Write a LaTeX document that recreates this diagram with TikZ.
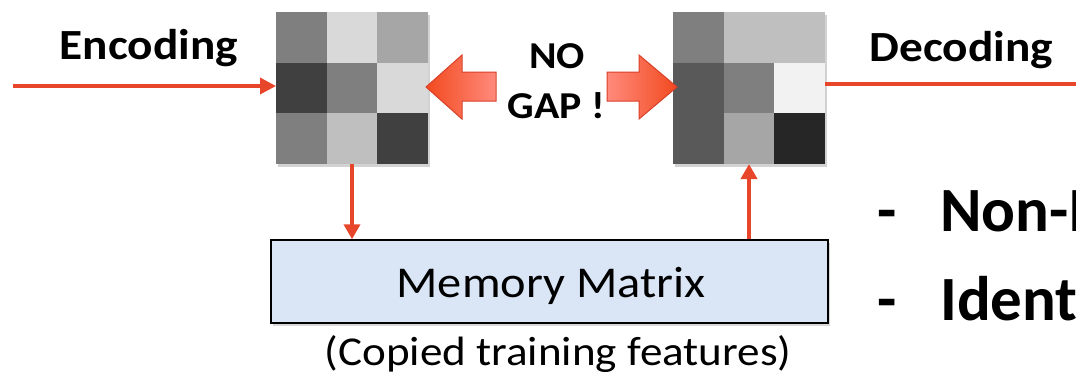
\documentclass[tikz,border=0pt]{standalone}
\usepackage{fontspec}
\setmainfont[FakeStretch=1.1]{Carlito}
\newfontfamily\plainfont{Carlito}
\usetikzlibrary{arrows.meta,shadows,calc}
\definecolor{arr}{HTML}{E8462A}
\definecolor{arrdark}{HTML}{D9402A}
\definecolor{tipcol}{HTML}{F24A1E}
\definecolor{tailcol}{HTML}{FF8A7C}
\definecolor{boxfill}{HTML}{DAE6F6}
\definecolor{gA}{HTML}{7F7F7F}
\definecolor{gB}{HTML}{D9D9D9}
\definecolor{gC}{HTML}{A6A6A6}
\definecolor{gD}{HTML}{404040}
\definecolor{gE}{HTML}{BFBFBF}
\definecolor{gF}{HTML}{595959}
\definecolor{gG}{HTML}{F2F2F2}
\definecolor{gH}{HTML}{262626}
\begin{document}
\begin{tikzpicture}[x=1pt,y=-1pt,
  grid/.style={minimum width=152pt,minimum height=152pt,inner sep=0pt,outer sep=0pt,
     fill=white,drop shadow={opacity=0.35,shadow xshift=2pt,shadow yshift=-3pt}},
  flow/.style={draw=arr,line width=3.5pt,-{Triangle[length=16pt,width=16pt]}},
  vflow/.style={draw=arr,line width=4pt,-{Triangle[length=15pt,width=16pt]}},
  blockarrow/.style={draw=arrdark,line width=1pt},
  lbl/.style={font=\bfseries\fontsize{43}{43}\selectfont,anchor=base,inner sep=0pt},
  big/.style={font=\plainfont\bfseries\fontsize{63}{63}\selectfont,anchor=base west,inner sep=0pt},
  mem/.style={draw=black,line width=1.5pt,fill=boxfill,minimum width=557pt,minimum height=83pt,
     inner sep=0pt,drop shadow={opacity=0.3,shadow xshift=2pt,shadow yshift=-3pt}}]
\useasboundingbox[fill=white] (0,0) rectangle (1076,376);

% grids
\node[grid] (enc) at (352,88) {};
\node[grid] (dec) at (749,88) {};
\foreach \c [count=\i from 0] in {gA,gB,gC,gD,gA,gB,gA,gE,gD}{
  \pgfmathtruncatemacro{\col}{mod(\i,3)}
  \pgfmathtruncatemacro{\row}{div(\i,3)}
  \fill[\c] ($(enc.north west)+(\col*50.67,\row*50.67)$) rectangle ++(50.67,50.67);
}
\foreach \c [count=\i from 0] in {gA,gE,gE,gF,gA,gG,gF,gC,gH}{
  \pgfmathtruncatemacro{\col}{mod(\i,3)}
  \pgfmathtruncatemacro{\row}{div(\i,3)}
  \fill[\c] ($(dec.north west)+(\col*50.67,\row*50.67)$) rectangle ++(50.67,50.67);
}

% memory box
\node[mem] (mem) at (549.5,281.5) {};
\node[font=\fontsize{44}{44}\selectfont,anchor=base,inner sep=0pt] (memtxt) at (551,297) {Memory Matrix};
\node[font=\fontsize{41}{41}\selectfont,anchor=base,inner sep=0pt] (copied) at (558,365.5) {(Copied training features)};

% flow arrows
\coordinate (in) at (13,86);
\coordinate (out) at (1093,84);
\draw[flow] (in) -- (enc.west |- in);
\draw[flow] (dec.east |- out) -- (out);
\draw[vflow] (enc.south) -- (enc.south |- mem.north);
\draw[vflow] (mem.north -| dec.south) -- (dec.south);

% labels
\node[lbl] (enclbl) at (149,59.5) {Encoding};
\node[lbl] (declbl) at (961.5,61) {Decoding};
\node[font=\bfseries\fontsize{38}{38}\selectfont,anchor=base,inner sep=0pt] (no) at (557,68) {NO};
\node[font=\bfseries\fontsize{38}{38}\selectfont,anchor=base,inner sep=0pt] (gap) at (556.5,118) {GAP !};

% block arrows
\shade[left color=tipcol,right color=tailcol,blockarrow]
  (426,87) -- (462,55) -- (462,72) -- (496,72) -- (496,101) -- (462,101) -- (462,119) -- cycle;
\shade[left color=tailcol,right color=tipcol,blockarrow]
  (607,72) -- (639,72) -- (639,55) -- (677,87) -- (639,119) -- (639,101) -- (607,101) -- cycle;

% bullets
\node[big] (d1) at (877,231.7) {-};
\node[big] (b1) at (940,231.7) {Non-I};
\node[big] (d2) at (877,320) {-};
\node[big] (b2) at (940,320) {Ident};
\end{tikzpicture}
\end{document}
